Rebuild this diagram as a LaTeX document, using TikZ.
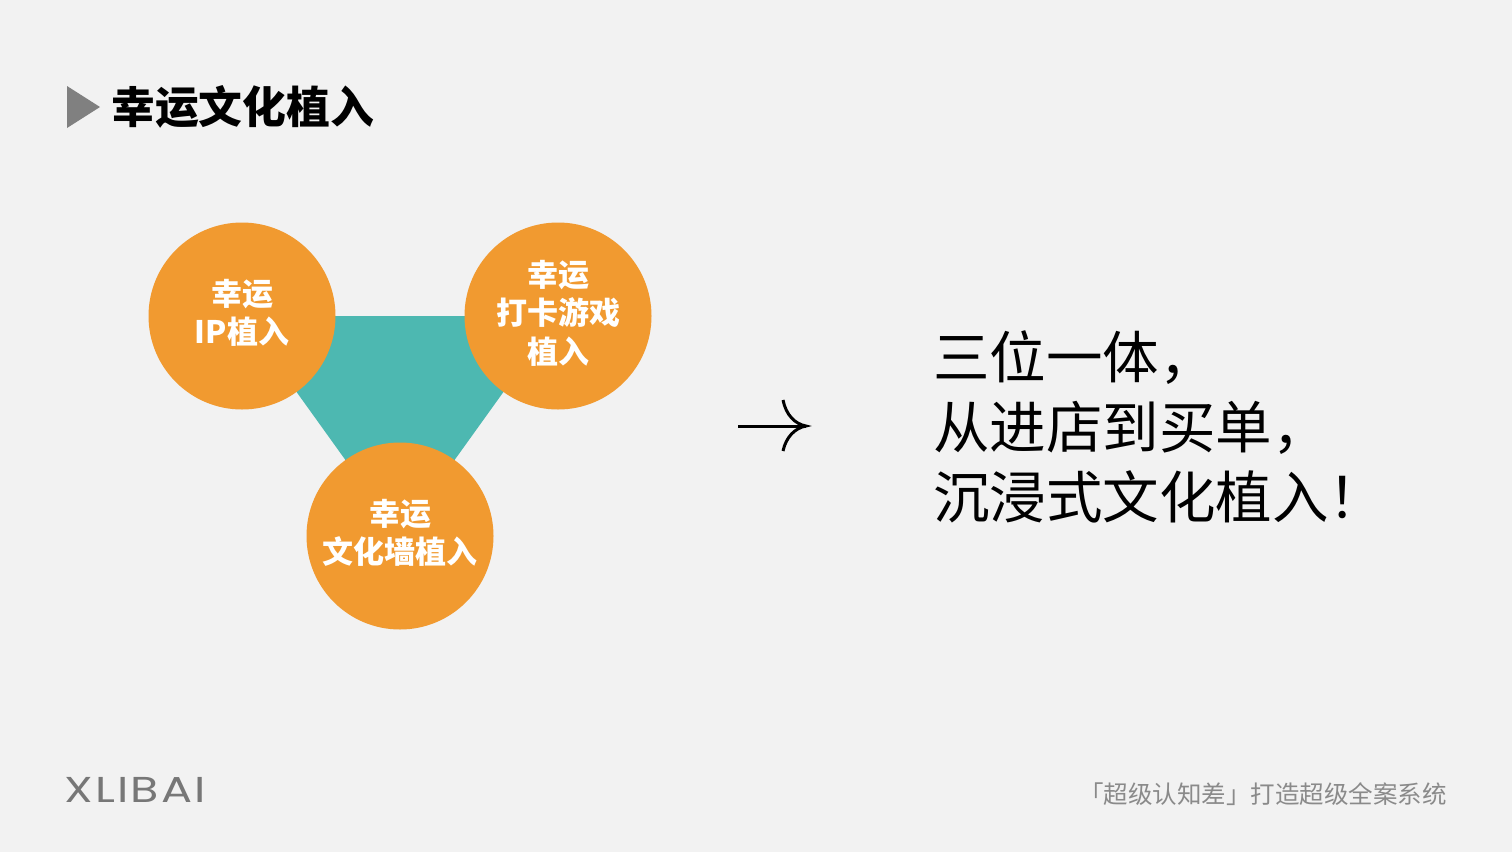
\documentclass[tikz,border=0pt]{standalone}
\usepackage{fontspec}
\newfontfamily\cjk{Noto Sans CJK SC}
\newfontfamily\logofont[LetterSpace=5]{Poppins}
\usetikzlibrary{calc}
\definecolor{bgc}{HTML}{F2F2F2}
\definecolor{orangec}{HTML}{F19A30}
\definecolor{tealc}{HTML}{4DB8B1}
\definecolor{graytri}{HTML}{808080}
\definecolor{footgray}{HTML}{8A8A8A}
\definecolor{logogray}{HTML}{777777}
\tikzset{
  bubble/.style={circle, fill=orangec, minimum size=187pt, inner sep=0pt},
  bubtext/.style={inner sep=0pt, text=white, align=center, yshift=3pt,
    font=\cjk\bfseries\fontsize{31}{38.5}\selectfont},
  txt/.style={inner sep=0pt},
}
\begin{document}
\begin{tikzpicture}[x=1pt,y=-1pt]
\fill[bgc] (0,0) rectangle (1512,852);
\useasboundingbox (0,0) rectangle (1512,852);
% title
\fill[graytri] (67,86) -- (100,107) -- (67,128) -- cycle;
\node[txt, anchor=west, font=\cjk\bfseries\fontsize{43.8}{43.8}\selectfont] (title) at (111,107) {幸运文化植入};
% triangle
\coordinate (cip) at (242,316);
\coordinate (cgame) at (558,316);
\coordinate (cwall) at (400,536);
\fill[tealc] (cip) -- (cgame) -- (cwall) -- cycle;
\node[bubble] (ip) at (cip) {};
\node[bubble] (game) at (cgame) {};
\node[bubble] (wall) at (cwall) {};
\node[bubtext] (iptext) at (ip.center) {幸运\\IP植入};
\node[bubtext] (gametext) at (game.center) {幸运\\打卡游戏\\植入};
\node[bubtext] (walltext) at (wall.center) {幸运\\文化墙植入};
% arrow
\coordinate (as) at (738,426);
\coordinate (ae) at (806,426);
\draw[line width=3pt] (as) -- (ae);
\draw[line width=3pt] (783,400) .. controls (786,415) and (795,424) .. (ae) .. controls (795,428) and (786,437) .. (783,451);
% right text
\node[txt, anchor=west, align=left, font=\cjk\fontsize{56.5}{70}\selectfont] (slogan) at (933,427) {三位一体，\\从进店到买单，\\沉浸式文化植入！};
% footer
\node[txt, anchor=west, text=logogray] (logo) at (64,790) {\scalebox{1.28}[1]{\logofont\fontsize{36}{36}\selectfont XLIBAI}};
\node[txt, anchor=east, text=footgray, font=\cjk\fontsize{24.5}{24.5}\selectfont] (foot) at (1447,794) {「超级认知差」打造超级全案系统};
\end{tikzpicture}
\end{document}
